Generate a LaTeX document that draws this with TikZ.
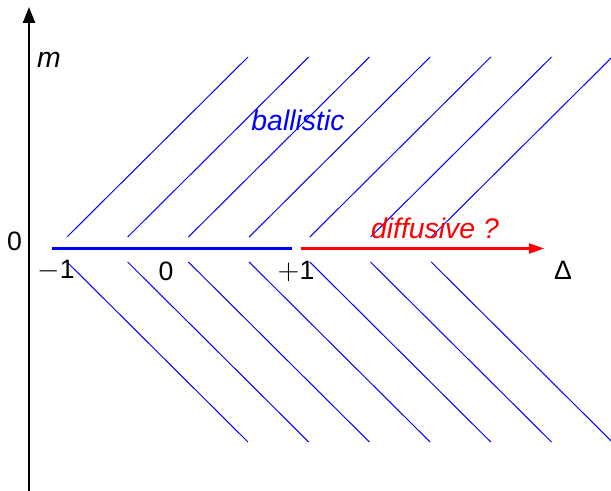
\documentclass[tikz,border=0pt]{standalone}
\usepackage{fontspec}
\setmainfont{Liberation Sans}
\usepackage{tikz}
\usetikzlibrary{arrows.meta,positioning}

\begin{document}
\begin{tikzpicture}[
    x=0.5pt, y=-0.5pt,
    hatch/.style={draw=blue, line width=0.5pt},
    axis/.style={-{Triangle[length=8pt, width=6pt]}, line width=1.2pt, draw=black},
    numlabel/.style={font=\fontsize{13.3}{16}\selectfont, text=black, inner sep=0pt},
    regime/.style={font=\fontsize{14.2}{17}\selectfont\itshape, inner sep=0pt},
    ballline/.style={draw=blue, line width=1.1pt},
    diffarrow/.style={-{Triangle[length=7.5pt, width=5pt]}, line width=1.1pt, draw=red}
]
\useasboundingbox (0,0) rectangle (611,491);

% Hatching above and below the axis.
\foreach \k in {0,...,6} {
    \draw[hatch] ({67+60.7*\k},237) -- ++(181,-180);
    \draw[hatch] ({67+60.7*\k},262) -- ++(181,180);
}

% Vertical axis.
\coordinate (mbot) at (29,491);
\coordinate (mtop) at (29,7);
\draw[axis] (mbot) -- (mtop);

% Ballistic segment and diffusive arrow.
\coordinate (bl) at (52,248.5);
\coordinate (br) at (292,248.5);
\coordinate (dl) at (301,248.5);
\coordinate (dr) at (544,248.5);
\draw[ballline] (bl) -- (br);
\draw[diffarrow] (dl) -- (dr);

% Labels.
\node[regime, text=black] (mlab) at (49,60) {m};
\node[numlabel] (zero) at (14.5,241.5) {0};
\node[numlabel] (mone) at (56,271) {$-$1};
\node[numlabel] (mid) at (166,271) {0};
\node[numlabel] (pone) at (296,271) {$+$1};
\node[numlabel] (delta) at (563,270) {Δ};
\node[regime, text=blue] (ball) at (298,120) {ballistic};
\node[regime, text=red] (diff) at (435,228) {diffusive ?};

\end{tikzpicture}
\end{document}
